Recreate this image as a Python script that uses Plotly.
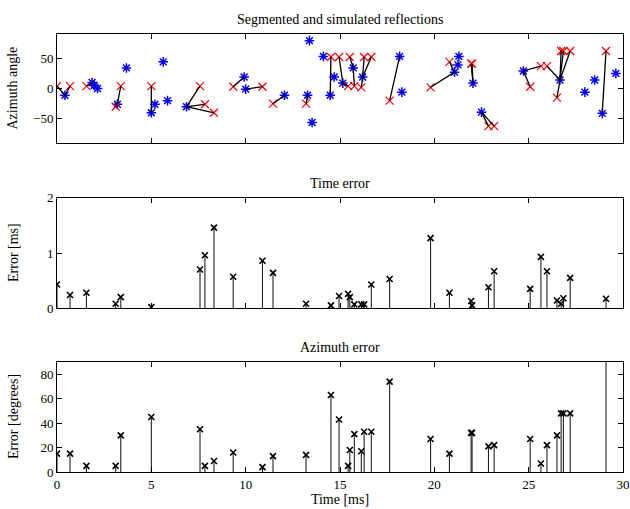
import plotly.graph_objects as go
from plotly.subplots import make_subplots

# Segmented reflections (red x): time [ms] and azimuth [deg]
seg_t = [0.0, 0.69, 1.56, 3.11, 3.38, 5.0, 7.58, 7.84, 8.32, 9.34, 10.89, 11.45,
         13.2, 14.52, 14.95, 15.43, 15.52, 15.76, 16.13, 16.28, 16.66, 17.63,
         19.8, 20.8, 21.95, 22.0, 22.87, 23.17, 25.08, 25.65, 25.97, 26.5,
         26.72, 26.84, 27.2, 29.1]
seg_az = [4, 4, 4, -30, 4, 4, 4, -26, -40, 3, 3, -25,
          -25, 52, 52, 4, 52, 4, 2, 52, 52, -20,
          2, 44, 41, 41, -62, -62, 3, 37, 37, -15,
          62, 62, 62, 62]

# Simulated reflections (blue *)
sim_t = [0.42, 1.86, 1.97, 2.15, 3.2, 3.68, 5.0, 5.19, 5.63, 5.86, 6.86, 9.92,
         10.0, 12.06, 13.28, 13.38, 13.52, 14.12, 14.48, 14.69, 15.15, 15.7,
         16.2, 18.16, 18.28, 21.07, 21.25, 21.3, 22.05, 22.5, 24.72, 26.66,
         27.98, 28.5, 28.9, 29.62]
sim_az = [-11, 10, 5, 0, -26, 34, -40, -26, 44, -20, -30, 19,
          -1, -11, -11, 79, -56, 53, -11, 19, 9, 34,
          19, 53, -6, 27, 39, 53, 9, -39, 29, 14,
          -6, 14, -41, 25]

# index of the simulated reflection each segmented one is matched to
match = [0, 0, 1, 4, 4, 6, 10, 10, 10, 11, 12, 13, 14, 18, 20, 20, 21, 21,
         22, 22, 22, 23, 25, 25, 28, 28, 29, 29, 30, 30, 31, 31, 31, 31, 31, 34]

time_err = [0.43, 0.24, 0.28, 0.08, 0.20, 0.02, 0.70, 0.96, 1.46, 0.57, 0.86, 0.64,
            0.08, 0.05, 0.22, 0.26, 0.20, 0.07, 0.07, 0.07, 0.43, 0.53,
            1.27, 0.28, 0.13, 0.05, 0.38, 0.67, 0.35, 0.93, 0.67, 0.14,
            0.08, 0.18, 0.55, 0.17]
az_err = [15, 15, 5, 5, 30, 45, 35, 5, 9, 16, 4, 13,
          14, 63, 43, 5, 18, 31, 17, 33, 33, 74,
          27, 15, 32, 32, 21, 22, 27, 7, 22, 30,
          48, 48, 48, 103]

FONT = "Liberation Serif"

fig = make_subplots(rows=3, cols=1, vertical_spacing=0.125)

# connecting lines between matched reflections
lx, ly = [], []
for i, j in enumerate(match):
    lx += [seg_t[i], sim_t[j], None]
    ly += [seg_az[i], sim_az[j], None]

fig.add_trace(go.Scatter(x=sim_t, y=sim_az, mode='markers',
                         marker=dict(symbol='asterisk-open', size=8, color='blue',
                                     line=dict(color='blue', width=1.5))), row=1, col=1)
fig.add_trace(go.Scatter(x=seg_t, y=seg_az, mode='markers',
                         marker=dict(symbol='x-thin-open', size=8, color='red',
                                     line=dict(color='red', width=1.2))), row=1, col=1)
fig.add_trace(go.Scatter(x=lx, y=ly, mode='lines',
                         line=dict(color='black', width=1.3)), row=1, col=1)

stem_marker = dict(symbol='x-thin-open', size=6, color='black',
                   line=dict(color='black', width=1.6))
for row, vals in [(2, time_err), (3, az_err)]:
    fig.add_trace(go.Scatter(
        x=seg_t, y=vals, mode='markers', marker=stem_marker,
        error_y=dict(type='data', symmetric=False, array=[0] * len(vals),
                     arrayminus=vals, width=0, thickness=1.1, color='#222')),
        row=row, col=1)

axis_style = dict(showline=True, linecolor='black', linewidth=1, mirror='ticks',
                  ticks='inside', ticklen=5, tickcolor='black', showgrid=False,
                  zeroline=False, automargin=False, ticklabeloverflow='allow',
                  tickfont=dict(family=FONT, size=13, color='black'))

for r in (1, 2, 3):
    fig.update_xaxes(range=[0, 30], tickvals=[0, 5, 10, 15, 20, 25, 30],
                     showticklabels=(r == 3), row=r, col=1, **axis_style)

fig.update_yaxes(range=[-90, 90], tickvals=[-50, 0, 50], row=1, col=1, **axis_style)
fig.update_yaxes(range=[0, 2], tickvals=[0, 1, 2], row=2, col=1, **axis_style)
fig.update_yaxes(range=[0, 90], tickvals=[0, 20, 40, 60, 80], row=3, col=1, **axis_style)

title_font = dict(family=FONT, size=14, color='black')
fig.update_xaxes(title=dict(text='Time [ms]', font=title_font, standoff=0), row=3, col=1)

domains = [(0.751, 1.0), (0.374, 0.626), (0.0, 0.251)]
titles = ['Segmented and simulated reflections', 'Time error', 'Azimuth error']
ylabels = ['Azimuth angle', 'Error [ms]', 'Error [degrees]']

annotations = []
for (lo, hi), t, yl in zip(domains, titles, ylabels):
    annotations.append(dict(text=t, x=0.5, y=hi, xref='paper', yref='paper',
                            yanchor='bottom', yshift=5, showarrow=False, font=title_font))
    annotations.append(dict(text=yl, x=0, y=(lo + hi) / 2, xref='paper', yref='paper',
                            textangle=-90, xanchor='center', yanchor='middle',
                            xshift=-44, showarrow=False, font=title_font))

fig.update_layout(
    width=630, height=509,
    margin=dict(l=57, r=7, t=34, b=37, autoexpand=False),
    plot_bgcolor='white', paper_bgcolor='white',
    showlegend=False,
    yaxis=dict(domain=list(domains[0])),
    yaxis2=dict(domain=list(domains[1])),
    yaxis3=dict(domain=list(domains[2])),
    annotations=annotations,
)

# drop the default page margin so the figure sits at the window's top-left corner
fig.write_html("out.html", config={'displayModeBar': False},
               post_script="document.body.style.margin='0';document.body.style.overflow='hidden';")
